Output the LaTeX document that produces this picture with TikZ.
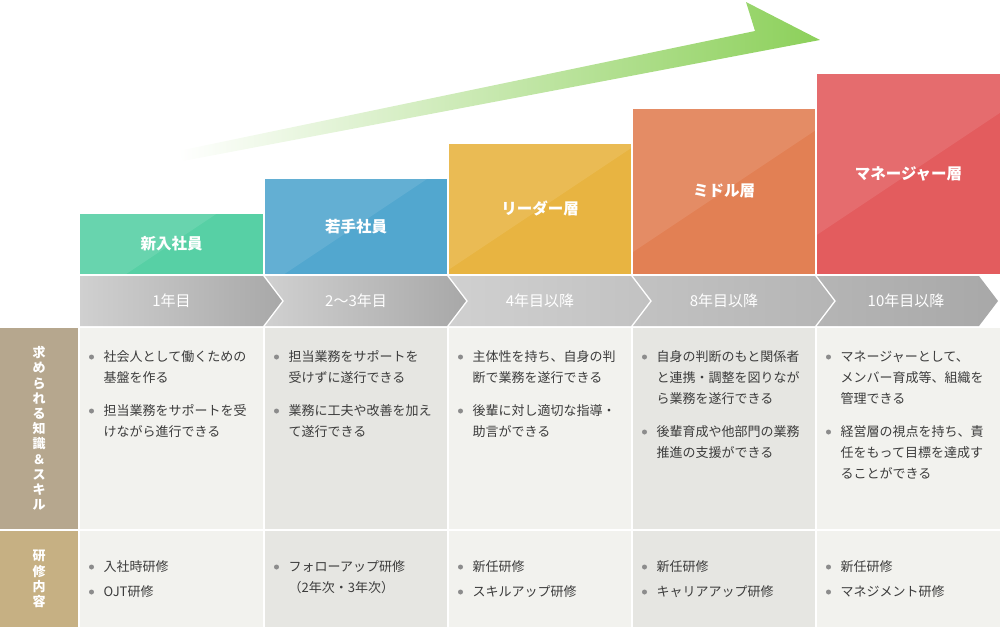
\documentclass[tikz,border=0pt]{standalone}
\usepackage{fontspec}
\setmainfont{Noto Sans CJK JP}
\usepackage{tikz}
\usetikzlibrary{calc}
\usepackage{xcolor}
\definecolor{ink}{RGB}{60,60,60}
\definecolor{dotc}{RGB}{140,140,140}
\definecolor{cNew}{RGB}{87,208,165}
\definecolor{cYoung}{RGB}{82,167,207}
\definecolor{cLead}{RGB}{232,180,65}
\definecolor{cMid}{RGB}{226,128,84}
\definecolor{cMgr}{RGB}{227,92,94}
\definecolor{cArrow}{RGB}{140,208,90}
\definecolor{cSkill}{RGB}{182,167,142}
\definecolor{cTrain}{RGB}{198,176,131}
\definecolor{cellA}{RGB}{242,242,238}
\definecolor{cellB}{RGB}{230,230,226}
\definecolor{gA}{RGB}{208,208,208}
\definecolor{gB}{RGB}{168,168,168}
\definecolor{gC}{RGB}{194,194,194}
\definecolor{gD}{RGB}{181,181,181}
\tikzset{
  tier/.style={anchor=south west,inner sep=0,outer sep=0,text=white,
    font=\bfseries\fontsize{15.5}{18}\selectfont},
  yrs/.style={inner sep=0,text=white,font=\fontsize{15}{18}\selectfont},
  side/.style={anchor=north west,inner sep=0,outer sep=0,minimum width=78,
    text=white,align=center,font=\bfseries\fontsize{13}{15.2}\selectfont},
  cell/.style={anchor=north west,inner sep=0,outer sep=0},
  itm/.style={anchor=north west,inner sep=0,align=left,text=ink,
    font=\fontsize{13}{21}\selectfont},
  dot/.style={circle,fill=dotc,inner sep=0,minimum size=5},
}
% bullet item: name, x, y, text
\newcommand{\bul}[4]{\node[dot] (d#1) at (#2,#3) {};
  \node[itm] (#1) at ($(d#1)+(12,-6.5)$) {#4};}
% light sheen over a tier box
\newcommand{\gloss}[1]{\begin{scope}
  \clip (#1.south west) rectangle (#1.north east);
  \fill[white,opacity=.1] ($(#1.center)+(-300,200)$) -- ($(#1.center)+(300,-200)$)
    -- ($(#1.center)+(300,-600)$) -- ($(#1.center)+(-300,-600)$) -- cycle;
  \end{scope}}

\begin{document}
\begin{tikzpicture}[x=1pt,y=-1pt]
  \useasboundingbox (0,0) rectangle (1000,627);
  % growth arrow
  \shade[left color=white,right color=cArrow] (178,151) -- (755,31) -- (746,2)
    -- (820,40) -- (183,161) -- cycle;
  % tiers
  \node[tier,fill=cNew,minimum width=183,minimum height=59.5] (new) at (80,273.5) {新入社員};
  \node[tier,fill=cYoung,minimum width=182,minimum height=94.5] (young) at (265,273.5) {若手社員};
  \node[tier,fill=cLead,minimum width=182,minimum height=129.5] (lead) at (449,273.5) {リーダー層};
  \node[tier,fill=cMid,minimum width=182,minimum height=164.5] (mid) at (633,273.5) {ミドル層};
  \node[tier,fill=cMgr,minimum width=183,minimum height=199.5] (mgr) at (817,273.5) {マネージャー層};
  \gloss{new}\gloss{young}\gloss{lead}\gloss{mid}\gloss{mgr}
  % years band
  \shade[left color=gA,right color=gB] (80,276) -- (263,276) -- (282,301) -- (263,326)
    -- (80,326) -- cycle;
  \shade[left color=gA,right color=gB] (265,276) -- (447,276) -- (466,301) -- (447,326)
    -- (265,326) -- (284,301) -- cycle;
  \shade[left color=gA,right color=gC] (449,276) -- (631,276) -- (650,301) -- (631,326)
    -- (449,326) -- (468,301) -- cycle;
  \shade[left color=gC,right color=gD] (633,276) -- (815,276) -- (834,301) -- (815,326)
    -- (633,326) -- (652,301) -- cycle;
  \shade[left color=gD,right color=gB] (817,276) -- (979,276) -- (998,301) -- (979,326)
    -- (817,326) -- (836,301) -- cycle;
  \node[yrs] (y1) at (171.5,301) {1年目};
  \node[yrs] (y2) at (356,301) {2〜3年目};
  \node[yrs] (y3) at (540,301) {4年目以降};
  \node[yrs] (y4) at (724,301) {8年目以降};
  \node[yrs] (y5) at (906,301) {10年目以降};
  % row heads
  \node[side,fill=cSkill,minimum height=201] (skill) at (0,328)
    {求\\め\\ら\\れ\\る\\知\\識\\＆\\ス\\キ\\ル};
  \node[side,fill=cTrain,minimum height=96] (train) at (0,531) {研\\修\\内\\容};
  % cells
  \node[cell,fill=cellA,minimum width=183,minimum height=201] (s1) at (80,328) {};
  \node[cell,fill=cellB,minimum width=182,minimum height=201] (s2) at (265,328) {};
  \node[cell,fill=cellA,minimum width=182,minimum height=201] (s3) at (449,328) {};
  \node[cell,fill=cellB,minimum width=182,minimum height=201] (s4) at (633,328) {};
  \node[cell,fill=cellA,minimum width=183,minimum height=201] (s5) at (817,328) {};
  \node[cell,fill=cellA,minimum width=183,minimum height=96] (r1) at (80,531) {};
  \node[cell,fill=cellB,minimum width=182,minimum height=96] (r2) at (265,531) {};
  \node[cell,fill=cellA,minimum width=182,minimum height=96] (r3) at (449,531) {};
  \node[cell,fill=cellB,minimum width=182,minimum height=96] (r4) at (633,531) {};
  \node[cell,fill=cellA,minimum width=183,minimum height=96] (r5) at (817,531) {};
  % skills
  \bul{k1a}{91.5}{357}{社会人として働くための\\基盤を作る}
  \bul{k1b}{91.5}{411}{担当業務をサポートを受\\けながら進行できる}
  \bul{k2a}{276.5}{357}{担当業務をサポートを\\受けずに遂行できる}
  \bul{k2b}{276.5}{411}{業務に工夫や改善を加え\\て遂行できる}
  \bul{k3a}{460.5}{357}{主体性を持ち、自身の判\\断で業務を遂行できる}
  \bul{k3b}{460.5}{411}{後輩に対し適切な指導・\\助言ができる}
  \bul{k4a}{644.5}{357}{自身の判断のもと関係者\\と連携・調整を図りなが\\ら業務を遂行できる}
  \bul{k4b}{644.5}{432}{後輩育成や他部門の業務\\推進の支援ができる}
  \bul{k5a}{828.5}{357}{マネージャーとして、\\メンバー育成等、組織を\\管理できる}
  \bul{k5b}{828.5}{432}{経営層の視点を持ち、責\\任をもって目標を達成す\\ることができる}
  % training
  \bul{p1a}{91.5}{567}{入社時研修}
  \bul{p1b}{91.5}{592}{OJT研修}
  \bul{p2a}{276.5}{567}{フォローアップ研修\\（2年次・3年次）}
  \bul{p3a}{460.5}{567}{新任研修}
  \bul{p3b}{460.5}{592}{スキルアップ研修}
  \bul{p4a}{644.5}{567}{新任研修}
  \bul{p4b}{644.5}{592}{キャリアアップ研修}
  \bul{p5a}{828.5}{567}{新任研修}
  \bul{p5b}{828.5}{592}{マネジメント研修}
\end{tikzpicture}
\end{document}
